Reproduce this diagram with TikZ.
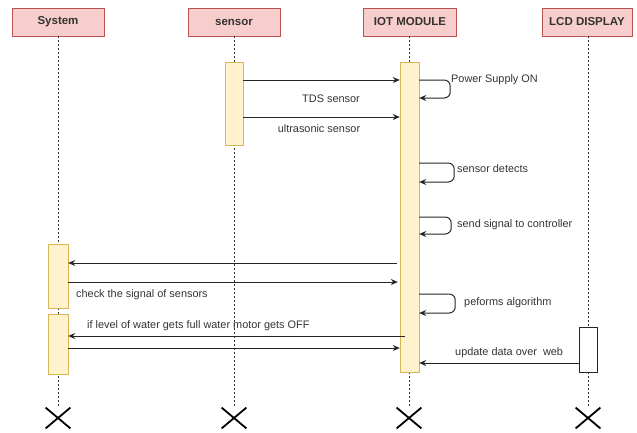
\documentclass[tikz,border=0pt]{standalone}
\usepackage{fontspec}
\setmainfont{Liberation Sans}
\usetikzlibrary{arrows.meta,calc,shapes.misc}
\definecolor{hdrfill}{HTML}{F8CECC}
\definecolor{hdrdraw}{HTML}{B85450}
\definecolor{actfill}{HTML}{FFF2CC}
\definecolor{actdraw}{HTML}{D6B656}
\definecolor{txt}{HTML}{333333}
\begin{document}
\begin{tikzpicture}[x=1pt,y=-1pt,
 header/.style={draw=hdrdraw,fill=hdrfill,minimum height=28pt,inner sep=0pt,font=\fontsize{11.5}{13}\selectfont\bfseries,text=txt},
 actbox/.style={draw=actdraw,fill=actfill,minimum width=18pt,inner sep=0pt},
 life/.style={draw=black!80,dash pattern=on 2pt off 2pt,line width=0.7pt},
 msg/.style={draw=black!85,line width=1pt,-{Stealth[length=7pt,width=6pt]}},
 selfmsg/.style={msg,rounded corners=6pt},
 lbl/.style={font=\fontsize{10.9}{12}\selectfont,text=txt,inner sep=0pt},
 endx/.style={draw=black,cross out,line width=1.8pt,minimum width=23pt,minimum height=19pt,inner sep=0pt}]
\useasboundingbox (0,0) rectangle (637,432);
% headers
\node[header,minimum width=92pt] (sys) at (58,22) {System};
\node[header,minimum width=92pt] (sen) at (234,22) {sensor};
\node[header,minimum width=93pt] (iot) at (410,22) {IOT MODULE};
\node[header,minimum width=90pt] (lcd) at (587,22) {LCD DISPLAY};
% end crosses
\node[endx] (sysx) at (58,418) {};
\node[endx] (senx) at (234,418) {};
\node[endx] (iotx) at (409,418) {};
\node[endx] (lcdx) at (588,418) {};
% lifelines
\draw[life] (sys.south) -- (sysx.north);
\draw[life] (sen.south) -- (senx.north);
\draw[life] (iot.south -| iotx.north) -- (iotx.north);
\draw[life] (lcd.south -| lcdx.north) -- (lcdx.north);
% activations
\node[actbox,minimum height=83pt] (sena) at (234,103.5) {};
\node[actbox,minimum height=310pt,minimum width=19pt] (iota) at (409.5,217) {};
\node[actbox,minimum height=64pt,minimum width=20pt] (sa1) at (58,276) {};
\node[actbox,minimum height=60pt,minimum width=20pt] (sa2) at (58,344) {};
\node[draw=black!85,fill=white,line width=0.8pt,minimum width=18pt,minimum height=45pt,inner sep=0pt] (lcda) at (588,349.5) {};
% messages
\draw[msg] (sena.east |- 0,80) -- (iota.west |- 0,80);
\node[lbl] (l1) at (331,99) {TDS sensor};
\draw[msg] (sena.east |- 0,117) -- (iota.west |- 0,117);
\node[lbl] (l2) at (319,129) {ultrasonic sensor};
\draw[selfmsg] (iota.east |- 0,80) -- ++(31,0) -- ++(0,18) -- (iota.east |- 0,98);
\node[lbl,anchor=west] (l3) at (451,80) {Power Supply ON};
\draw[selfmsg] (iota.east |- 0,163) -- ++(35,0) -- ++(0,19) -- (iota.east |- 0,182);
\node[lbl,anchor=west] (l4) at (457,169) {sensor detects};
\draw[selfmsg] (iota.east |- 0,217) -- ++(32,0) -- ++(0,17) -- (iota.east |- 0,234);
\node[lbl,anchor=west] (l5) at (457,225) {send signal to controller};
\draw[msg] ([xshift=-3pt]iota.west |- 0,263) -- (sa1.east |- 0,263);
\draw[msg] (sa1.east |- 0,282) -- ([xshift=-2pt]iota.west |- 0,282);
\node[lbl,anchor=west] (l6) at (76,295) {check the signal of sensors};
\draw[selfmsg] (iota.east |- 0,294) -- ++(36,0) -- ++(0,19) -- (iota.east |- 0,313);
\node[lbl,anchor=west] (l7) at (464,303) {peforms algorithm};
\draw[msg] ([xshift=5pt]iota.west |- 0,336) -- (sa2.east |- 0,336);
\node[lbl,anchor=west] (l8) at (87,326) {if level of water gets full water motor gets OFF};
\draw[msg] (sa2.east |- 0,348) -- (iota.west |- 0,348);
\draw[msg] (lcda.west |- 0,363) -- (iota.east |- 0,363);
\node[lbl,anchor=west] (l9) at (455,353) {update data over\ \ web};
\end{tikzpicture}
\end{document}
